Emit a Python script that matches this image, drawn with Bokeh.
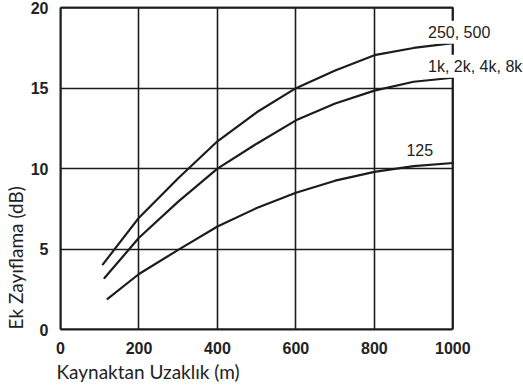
import math
from bokeh.plotting import figure
from bokeh.models import Range1d, FixedTicker, Label, Title
from bokeh.embed import file_html
from bokeh.resources import INLINE

# Extra attenuation (dB) against distance from the source (m), per octave band group
dist_250_500 = [108, 200, 300, 400, 500, 600, 700, 800, 900, 1000]
att_250_500 = [4.05, 6.95, 9.4, 11.7, 13.5, 15.0, 16.1, 17.05, 17.5, 17.8]

dist_1k_8k = [112, 200, 300, 400, 500, 600, 700, 800, 900, 1000]
att_1k_8k = [3.2, 5.7, 7.95, 10.0, 11.55, 13.0, 14.05, 14.85, 15.4, 15.65]

dist_125 = [120, 200, 300, 400, 500, 600, 700, 800, 900, 1000]
att_125 = [1.9, 3.45, 4.95, 6.4, 7.55, 8.5, 9.25, 9.8, 10.15, 10.35]

x_ticks = [0, 200, 400, 600, 800, 1000]
y_ticks = [0, 5, 10, 15, 20]

series_labels = ["250, 500", "1k, 2k, 4k, 8k", "125"]

INK = "#1c1c1c"
X_MAX, Y_MAX = 1000, 20

# the frame runs a little past the grid on the right and top so the curve
# labels have room; grid and axis lines are bounded to the data box
p = figure(width=523, height=392, output_backend="svg", toolbar_location=None,
           x_range=Range1d(0, 1180), y_range=Range1d(0, 20.45),
           min_border_left=57, min_border_right=0, min_border_top=0, min_border_bottom=63)
p.background_fill_color = "white"
p.border_fill_color = "white"
p.outline_line_color = None

for g in (p.xgrid, p.ygrid):
    g.grid_line_color = INK
    g.grid_line_width = 1.6
    g.grid_line_alpha = 1.0
p.xgrid.ticker = FixedTicker(ticks=x_ticks)
p.ygrid.ticker = FixedTicker(ticks=y_ticks)
p.xgrid.bounds = (0, X_MAX + 0.5)
p.xgrid.cross_bounds = (0, Y_MAX)
p.ygrid.bounds = (0, Y_MAX + 0.01)
p.ygrid.cross_bounds = (0, X_MAX)

for ax, ticks, bnd in ((p.xaxis[0], x_ticks, (0, X_MAX)), (p.yaxis[0], y_ticks, (0, Y_MAX))):
    ax.ticker = FixedTicker(ticks=ticks)
    ax.bounds = bnd
    ax.axis_line_color = INK
    ax.axis_line_width = 2
    ax.major_tick_line_color = None
    ax.minor_tick_line_color = None
    ax.major_label_text_font = "Liberation Sans"
    ax.major_label_text_font_size = "16px"
    ax.major_label_text_font_style = "bold"
    ax.major_label_text_color = "#222222"
p.xaxis.major_label_standoff = 6
p.yaxis.major_label_standoff = 6

# box around the data area (0..1000 m, 0..20 dB), drawn as an unfilled quad
p.quad(left=[0], right=[X_MAX], bottom=[0], top=[Y_MAX],
       fill_color=None, line_color=INK, line_width=2)

# attenuation curves
for xs, ys in ((dist_250_500, att_250_500), (dist_1k_8k, att_1k_8k), (dist_125, att_125)):
    p.line(xs, ys, line_color=INK, line_width=2.2, line_join="round", line_cap="round")

# curve labels; the white box breaks the right-hand edge behind them
for text, lx, ly in ((series_labels[0], 929, 18.48),
                     (series_labels[1], 929, 16.36),
                     (series_labels[2], 874, 11.15)):
    p.add_layout(Label(x=lx, y=ly, text=text, text_align="left", text_baseline="middle",
                       text_font="Liberation Sans", text_font_size="16px", text_color="#222222",
                       background_fill_color="white", padding=3))

# axis titles
p.add_layout(Title(text="Kaynaktan Uzaklık (m)", align="left", text_font="Lato",
                   text_font_size="19px", text_font_style="normal", text_color="#222222",
                   standoff=2, offset=-4), "below")
p.add_layout(Title(text="Ek Zayıflama (dB)", align="left", text_font="Lato",
                   text_font_size="19px", text_font_style="normal", text_color="#222222",
                   standoff=2), "left")

open("out.html", "w").write(file_html(p, INLINE))
